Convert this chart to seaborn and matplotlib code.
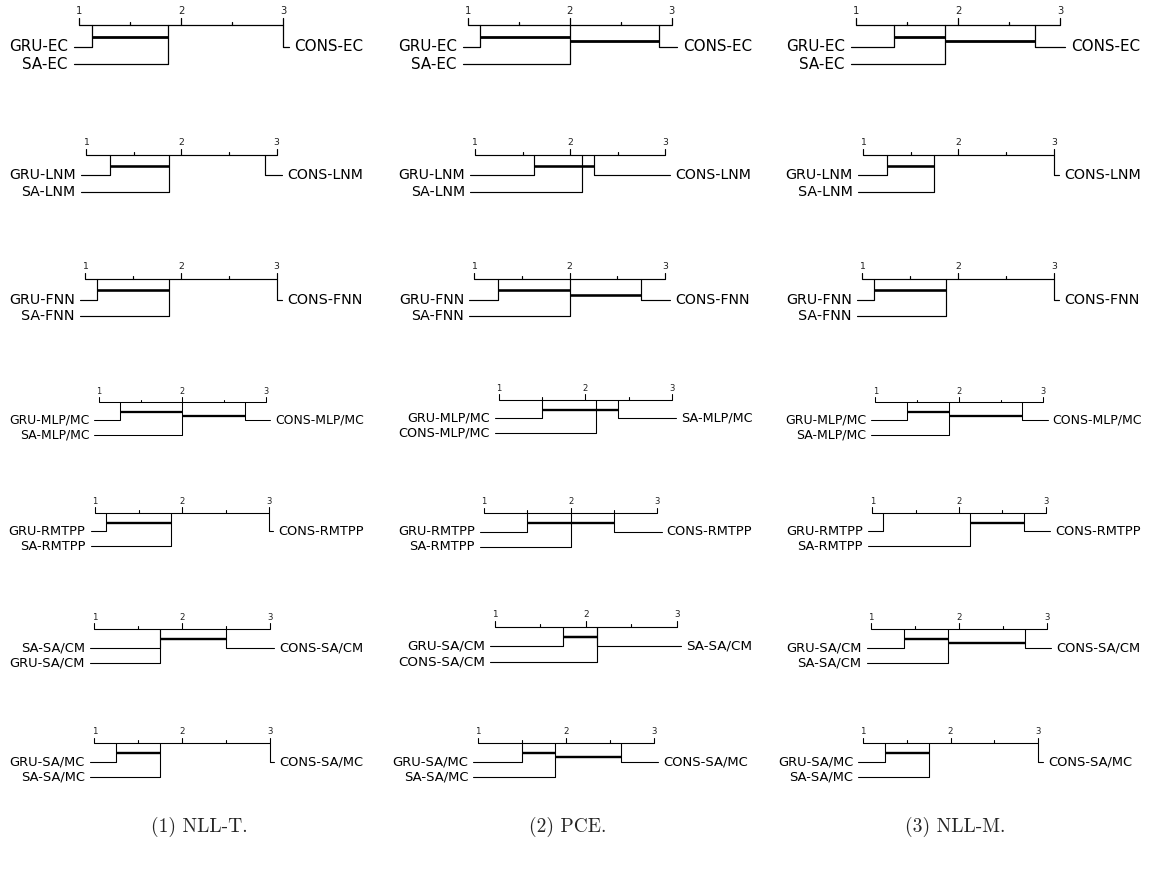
import matplotlib
matplotlib.use("Agg")
import matplotlib.pyplot as plt
import seaborn as sns
import pandas as pd

sns.set_theme(style="white")
plt.rcParams['font.family'] = ['DejaVu Sans']

# ---------------- data ----------------
metrics = ["NLL-T", "PCE", "NLL-M"]
captions = ["(1) NLL-T.", "(2) PCE.", "(3) NLL-M."]
datasets = ["EC", "LNM", "FNN", "MLP/MC", "RMTPP", "SA/CM", "SA/MC"]
models = ["GRU", "SA", "CONS"]

# average ranks, per dataset: [GRU, SA, CONS]
ranks_nll_t = [[1.125, 1.875, 3.0],
               [1.25, 1.875, 2.875],
               [1.125, 1.875, 3.0],
               [1.25, 2.0, 2.75],
               [1.125, 1.875, 3.0],
               [1.75, 1.75, 2.5],
               [1.25, 1.75, 3.0]]
ranks_pce = [[1.125, 2.0, 2.875],
             [1.625, 2.125, 2.25],
             [1.25, 2.0, 2.75],
             [1.5, 2.375, 2.125],
             [1.5, 2.0, 2.5],
             [1.75, 2.125, 2.125],
             [1.5, 1.875, 2.625]]
ranks_nll_m = [[1.375, 1.875, 2.75],
               [1.25, 1.75, 3.0],
               [1.125, 1.875, 3.0],
               [1.375, 1.875, 2.75],
               [1.125, 2.125, 2.75],
               [1.375, 1.875, 2.75],
               [1.25, 1.75, 3.0]]

# groups not significantly different (span from first to second model)
cliques_nll_t = [[("GRU", "SA")], [("GRU", "SA")], [("GRU", "SA")],
                 [("GRU", "SA"), ("SA", "CONS")], [("GRU", "SA")],
                 [("GRU", "CONS")], [("GRU", "SA")]]
cliques_pce = [[("GRU", "SA"), ("SA", "CONS")], [("GRU", "CONS")],
               [("GRU", "SA"), ("SA", "CONS")], [("GRU", "SA")],
               [("GRU", "CONS")], [("GRU", "SA")],
               [("GRU", "SA"), ("SA", "CONS")]]
cliques_nll_m = [[("GRU", "SA"), ("SA", "CONS")], [("GRU", "SA")], [("GRU", "SA")],
                 [("GRU", "SA"), ("SA", "CONS")], [("SA", "CONS")],
                 [("GRU", "SA"), ("SA", "CONS")], [("GRU", "SA")]]

all_ranks = [ranks_nll_t, ranks_pce, ranks_nll_m]
all_cliques = [cliques_nll_t, cliques_pce, cliques_nll_m]

# ---------------- layout (pixels) ----------------
W, H = 1151, 871
# per row, per column: (x of rank 1, x of rank 3, y of axis line)
panel_geom = [
    [(79, 283.3, 25), (467.7, 671.7, 25), (856, 1060, 25)],
    [(86, 276.7, 155), (475, 665, 155), (862.7, 1054, 155)],
    [(85.3, 276.7, 279.3), (474.3, 665, 279.3), (862, 1054, 279.3)],
    [(98.7, 266, 402.3), (499, 671.7, 400), (875.3, 1043.3, 402.3)],
    [(95, 269, 512.7), (484, 657.3, 513.3), (872.3, 1045.7, 512.7)],
    [(94.3, 270, 629), (495, 676.7, 626.7), (871, 1046.7, 629)],
    [(94.3, 270, 743.3), (477.7, 654, 743.3), (862.7, 1038.3, 743.3)],
]
caption_x = [199, 568, 955]
caption_y = 827

REF_SPAN = 204.0            # px between rank 1 and 3 at scale 1
PX_PER_RANK = REF_SPAN / 2
Y_TOP, Y_BOT = -22, 45      # local units (px at scale 1)
ROW_Y = [21.7, 39.3]
CLIQUE_Y = [11.7, 16.3]
TICK_MAJ, TICK_MIN = 6.7, 3.3
LINE_EXT = 5.2 / PX_PER_RANK
TEXT_GAP = 11.0 / PX_PER_RANK

fig = plt.figure(figsize=(W / 100, H / 100), dpi=100)

for c in range(3):
    for r in range(len(datasets)):
        x1, x3, ay = panel_geom[r][c]
        s = (x3 - x1) / REF_SPAN
        ax = fig.add_axes([x1 / W, 1 - (ay + Y_BOT * s) / H,
                           (x3 - x1) / W, (Y_BOT - Y_TOP) * s / H])
        ax.set_xlim(1, 3)
        ax.set_ylim(Y_BOT, Y_TOP)
        ax.axis("off")
        thin = 0.8 * s + 0.1
        thick = 2.0 * s

        rk = all_ranks[c][r]
        ds = datasets[r]
        # axis
        ax.plot([1, 3], [0, 0], color="black", lw=thin, clip_on=False,
                solid_capstyle="butt")
        for t in [1, 1.5, 2, 2.5, 3]:
            h = TICK_MAJ if t == int(t) else TICK_MIN
            ax.plot([t, t], [0, -h], color="black", lw=thin, clip_on=False)
            if t == int(t):
                ax.text(t, -10.5, str(int(t)), ha="center", va="baseline",
                        fontsize=7.2 * s, color="#222222")

        order = sorted(range(3), key=lambda i: (rk[i], -i))
        left = order[:2]
        right = order[2:]
        rows = []
        for j, mi in enumerate(left):
            yv = ROW_Y[j]
            rows.append(pd.DataFrame({"x": [rk[mi], rk[mi], 1 - LINE_EXT],
                                      "y": [0, yv, yv], "seg": mi}))
            ax.text(1 - TEXT_GAP, yv, f"{models[mi]}-{ds}", ha="right",
                    va="center", fontsize=10.9 * s, color="black")
        for j, mi in enumerate(right):
            yv = ROW_Y[j]
            rows.append(pd.DataFrame({"x": [rk[mi], rk[mi], 3 + LINE_EXT],
                                      "y": [0, yv, yv], "seg": mi}))
            ax.text(3 + TEXT_GAP, yv, f"{models[mi]}-{ds}", ha="left",
                    va="center", fontsize=10.9 * s, color="black")
        df = pd.concat(rows, ignore_index=True)
        sns.lineplot(data=df, x="x", y="y", units="seg", estimator=None,
                     sort=False, color="black", lw=thin, ax=ax, legend=False)
        for ln in ax.lines:
            ln.set_clip_on(False)

        for k, (a, b) in enumerate(all_cliques[c][r]):
            lo = rk[models.index(a)]
            hi = rk[models.index(b)]
            ax.plot([lo, hi], [CLIQUE_Y[k], CLIQUE_Y[k]], color="black",
                    lw=thick, clip_on=False, solid_capstyle="butt")
        ax.set_xlabel("")
        ax.set_ylabel("")

    fig.text(caption_x[c] / W, 1 - caption_y / H, captions[c], ha="center",
             va="center", fontsize=14, family="cmr10")

fig.savefig("out.png", dpi=100)
